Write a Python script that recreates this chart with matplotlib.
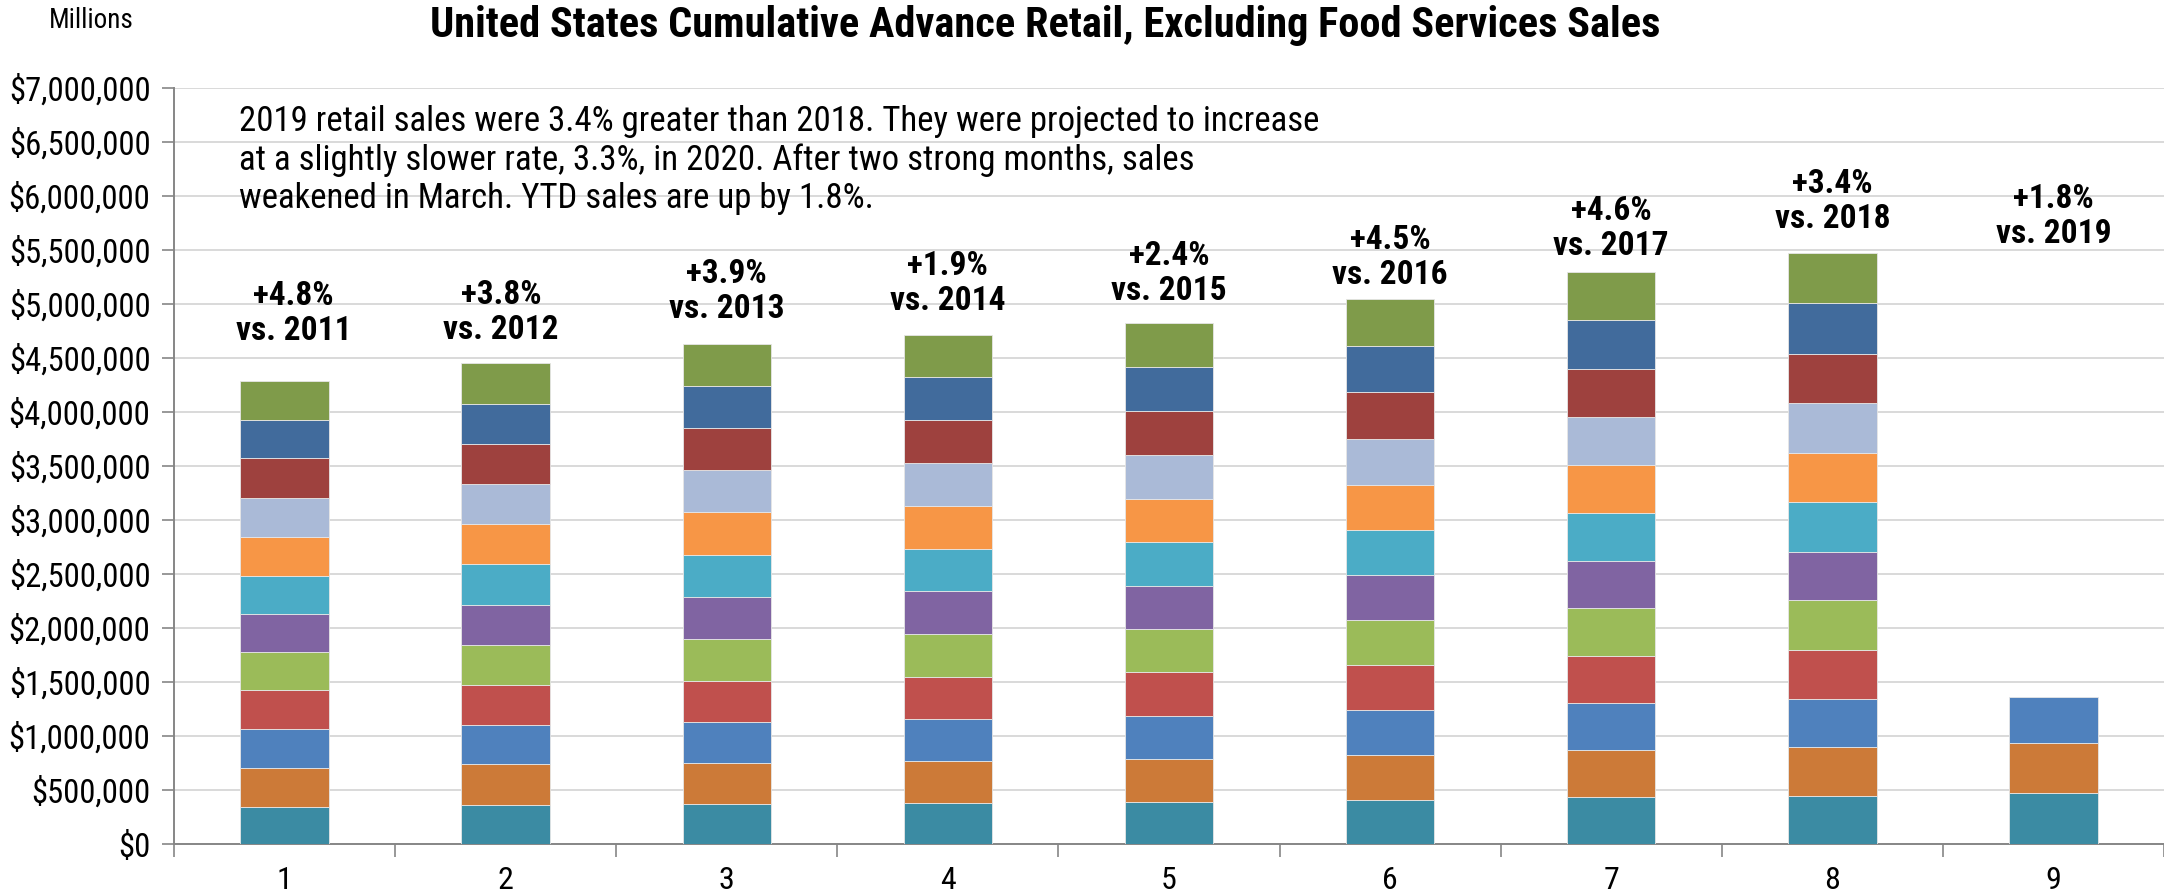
import matplotlib
matplotlib.use("Agg")
import matplotlib.pyplot as plt
from matplotlib import font_manager
from matplotlib.ticker import FuncFormatter
import numpy as np

# ---------------- data (values in $ millions) ----------------
categories = [1, 2, 3, 4, 5, 6, 7, 8, 9]
sales_2012 = [345000, 360000, 361000, 357000, 358000, 348000, 357000, 354000, 364000, 367000, 356000, 363000]
sales_2013 = [364000, 375000, 367000, 367000, 372000, 370000, 376000, 373000, 369000, 368000, 375000, 381000]
sales_2014 = [366000, 381000, 381000, 385000, 389000, 389000, 384000, 397000, 392000, 389000, 392000, 385000]
sales_2015 = [381000, 385000, 389000, 392000, 396000, 397000, 396000, 396000, 396000, 397000, 396000, 396000]
sales_2016 = [392000, 397000, 400000, 400000, 400000, 403000, 400000, 406000, 402000, 409000, 406000, 412000]
sales_2017 = [408000, 418000, 419000, 415000, 415000, 416000, 415000, 419000, 426000, 430000, 434000, 434000]
sales_2018 = [435000, 435000, 435000, 436000, 444000, 439000, 440000, 444000, 444000, 448000, 448000, 444000]
sales_2019 = [448000, 449000, 448000, 448000, 462000, 453000, 457000, 457000, 462000, 457000, 466000, 466000]
sales_2020 = [470000, 462000, 431000]
growth_labels = ["+4.8%\nvs. 2011", "+3.8%\nvs. 2012", "+3.9%\nvs. 2013", "+1.9%\nvs. 2014",
                 "+2.4%\nvs. 2015", "+4.5%\nvs. 2016", "+4.6%\nvs. 2017", "+3.4%\nvs. 2018",
                 "+1.8%\nvs. 2019"]
yticks = list(range(0, 7000001, 500000))
title = "United States Cumulative Advance Retail, Excluding Food Services Sales"
note = ("2019 retail sales were 3.4% greater than 2018. They were projected to increase\n"
        "at a slightly slower rate, 3.3%, in 2020. After two strong months, sales\n"
        "weakened in March. YTD sales are up by 1.8%.")

# ---------------- style ----------------
fl = font_manager.fontManager.ttflist
names = {f.name for f in fl}
bold_names = {f.name for f in fl if isinstance(f.weight, int) and f.weight >= 600
              or f.weight in ("bold", "semibold", "demibold", "heavy", "black", "extra bold")}
FONT = next((n for n in ["Roboto Condensed", "Fira Sans Condensed", "Liberation Sans"] if n in names),
            "DejaVu Sans")
BFONT = next((n for n in ["Roboto Condensed", "Fira Sans Condensed", "IBM Plex Sans Condensed",
                          "Liberation Sans"] if n in bold_names), "DejaVu Sans")
plt.rcParams["font.family"] = [FONT, "DejaVu Sans"]

month_colors = ["#3B8BA3", "#CC7A38", "#4F81BD", "#C0504D", "#9BBB59", "#8064A2",
                "#4BACC6", "#F79646", "#AABAD7", "#9E413E", "#416B9C", "#7F9B4A"]
label_y = [4.91e6, 4.92e6, 5.12e6, 5.19e6, 5.28e6, 5.43e6, 5.70e6, 5.95e6, 5.81e6]
label_dx = [0.04, -0.02, 0.0, 0.0, 0.0, 0.0, 0.0, 0.0, 0.0]

fig = plt.figure(figsize=(21.64, 8.96), dpi=100)
ax = fig.add_axes([174 / 2164, 52 / 896, 1 - 174 / 2164, (844 - 88) / 896])

series = [sales_2012, sales_2013, sales_2014, sales_2015, sales_2016,
          sales_2017, sales_2018, sales_2019, sales_2020]
for x, vals in zip(categories, series):
    bottom = 0
    for m, v in enumerate(vals):
        ax.bar(x, v, bottom=bottom, width=0.4, color=month_colors[m],
               edgecolor="#e6e6e6", linewidth=0.6, zorder=3)
        bottom += v

for x, lab, ly, dx in zip(categories, growth_labels, label_y, label_dx):
    ax.text(x + dx, ly, lab, ha="center", va="center", fontsize=24,
            family=[BFONT, "DejaVu Sans"], fontweight="bold", linespacing=1.12, zorder=4)

ax.set_xlim(0.5, 9.5)
ax.set_ylim(0, 7000000)
ax.set_yticks(yticks)
ax.yaxis.set_major_formatter(FuncFormatter(lambda v, p: "${:,.0f}".format(v)))
ax.set_xticks(categories)
ax.set_xticks(np.arange(0.5, 9.6, 1.0), minor=True)
ax.tick_params(axis="x", which="major", length=0, labelsize=23, pad=16)
ax.tick_params(axis="x", which="minor", length=9, width=1.2, color="#868686", direction="out")
ax.tick_params(axis="y", which="major", length=9, width=1.2, color="#868686",
               labelsize=23.5, pad=8)
ax.grid(axis="y", color="#D9D9D9", linewidth=1.4, zorder=0)
ax.set_axisbelow(True)
for s in ["top", "right"]:
    ax.spines[s].set_visible(False)
for s in ["left", "bottom"]:
    ax.spines[s].set_color("#868686")
    ax.spines[s].set_linewidth(1.4)

fig.text(1045 / 2164, 1 - 26 / 896, title, ha="center", va="center",
         fontsize=30.5, family=[BFONT, "DejaVu Sans"], fontweight="bold")
fig.text(91 / 2164, 1 - 20 / 896, "Millions", ha="center", va="center", fontsize=19.5)
fig.text(239 / 2164, 1 - 105 / 896, note, ha="left", va="top", fontsize=25,
         linespacing=1.2)

fig.savefig("out.png", dpi=100)
